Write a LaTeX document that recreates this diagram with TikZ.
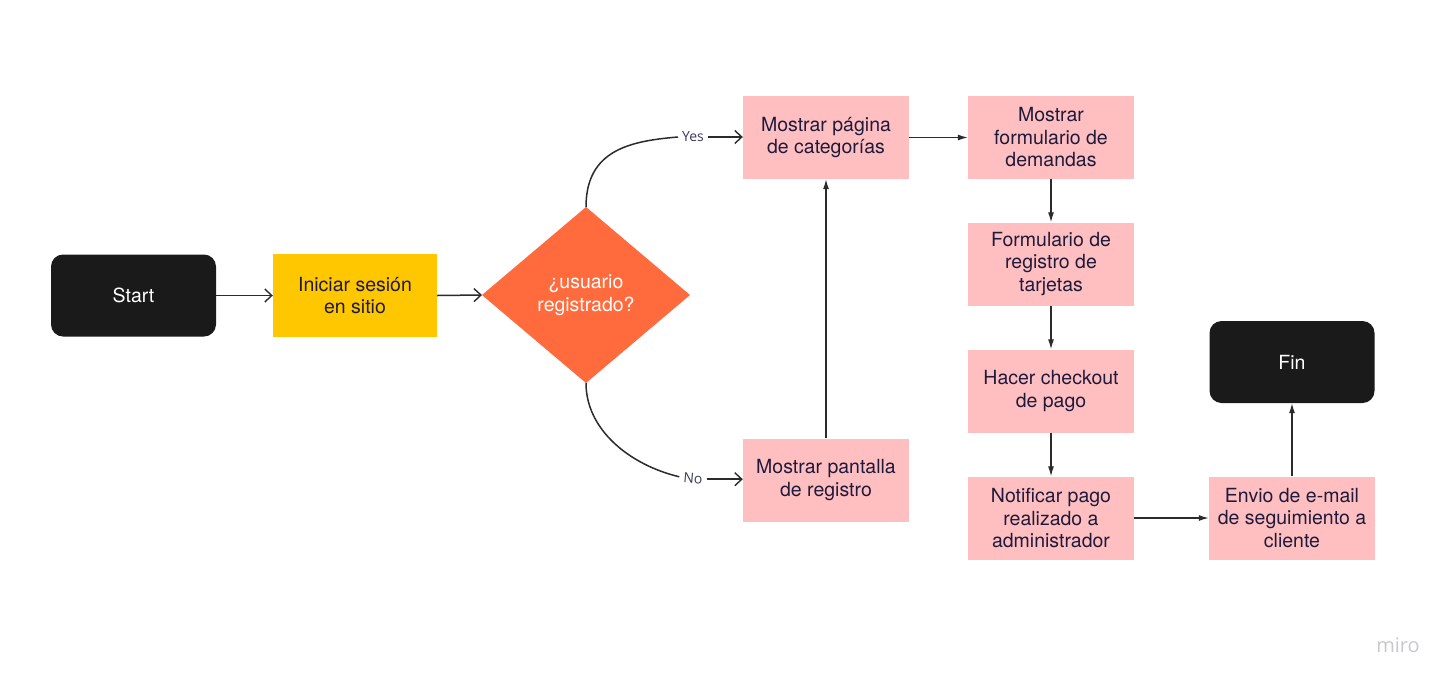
\documentclass[tikz,border=0pt]{standalone}
\usepackage{fontspec}
\setmainfont{TeX Gyre Heros}
\newfontfamily\labelfont{Open Sans}
\usetikzlibrary{arrows.meta}
\definecolor{blackbox}{HTML}{1A1A1A}
\definecolor{yellowbox}{HTML}{FFC700}
\definecolor{orangebox}{HTML}{FF6B3D}
\definecolor{pinkbox}{HTML}{FFBFC0}
\definecolor{txtdark}{HTML}{1E1A3C}
\definecolor{lblcol}{HTML}{3B3B5C}
\definecolor{linecol}{HTML}{2B2B2B}
\definecolor{mirocol}{HTML}{C8C8D0}
\tikzset{
  base/.style={inner sep=0pt, align=center, font=\fontsize{19.5}{22.5}\selectfont},
  termbox/.style={base, fill=blackbox, rounded corners=12pt, text=white, minimum width=165pt, minimum height=82pt},
  pinkstep/.style={base, fill=pinkbox, text=txtdark, minimum width=166pt, minimum height=83pt},
  yellowstep/.style={base, fill=yellowbox, text=txtdark, minimum width=164pt, minimum height=83pt},
  decision/.style={base, text=white},
  openarrow/.style={draw=linecol, line width=1.5pt, -{Straight Barb[length=7pt,width=13pt,line width=1.4pt]}},
  fillarrow/.style={draw=linecol, line width=1.2pt, -{Latex[length=10pt,width=6pt]}},
  lbl/.style={inner xsep=4pt, inner ysep=1pt, text=lblcol, font=\labelfont\fontsize{14}{16}\selectfont}
}
\begin{document}
\begin{tikzpicture}[x=1pt,y=-1pt]
\useasboundingbox (0,0) rectangle (1456,686);
\fill[white] (0,0) rectangle (1456,686);

\node[termbox] (start) at (133.5,295.5) {Start};
\node[yellowstep] (login) at (355,295.5) {Iniciar sesión\\en sitio};
\fill[orangebox] (482,295) -- (586,207) -- (690,295) -- (586,383) -- cycle;
\coordinate (dl) at (482,295);
\coordinate (dt) at (586,207);
\coordinate (db) at (586,383);
\node[decision] (dec) at (586,295) {¿usuario\\registrado?};

\node[pinkstep] (cat) at (826,137.5) {Mostrar página\\de categorías};
\node[pinkstep] (reg) at (826,480) {Mostrar pantalla\\de registro};
\node[pinkstep] (dem) at (1051,137.5) {Mostrar\\formulario de\\demandas};
\node[pinkstep] (tar) at (1051,264) {Formulario de\\registro de\\tarjetas};
\node[pinkstep] (chk) at (1051,391) {Hacer checkout\\de pago};
\node[pinkstep] (noti) at (1051,518) {Notificar pago\\realizado a\\administrador};
\node[pinkstep] (mail) at (1292,518) {Envio de e-mail\\de seguimiento a\\cliente};
\node[termbox] (fin) at (1292,362) {Fin};

\node[lbl] (yes) at (693,137) {Yes};
\node[lbl, rotate=-5] (no) at (693,478) {No};

\draw[openarrow] (start.east) -- (login.west);
\draw[openarrow] (login.east) -- (dl);
\draw[linecol, line width=1.5pt] (dt) .. controls (586,150) and (630,141) .. (yes.west);
\draw[openarrow] (yes.east) -- (cat.west |- yes.east);
\draw[linecol, line width=1.5pt] (db) .. controls (586,430) and (630,465) .. (no.west);
\draw[openarrow] (no.east) -- (reg.west |- no.east);

\draw[fillarrow] (reg.north) -- (cat.south);
\draw[fillarrow] (cat.east) -- (dem.west);
\draw[fillarrow] (dem.south) -- (tar.north);
\draw[fillarrow] (tar.south) -- (chk.north);
\draw[fillarrow] (chk.south) -- (noti.north);
\draw[fillarrow] (noti.east) -- (mail.west);
\draw[fillarrow] (mail.north) -- (fin.south);

\node[text=mirocol, font=\labelfont\fontsize{20}{22}\selectfont] (miro) at (1398,645) {miro};
\end{tikzpicture}
\end{document}
